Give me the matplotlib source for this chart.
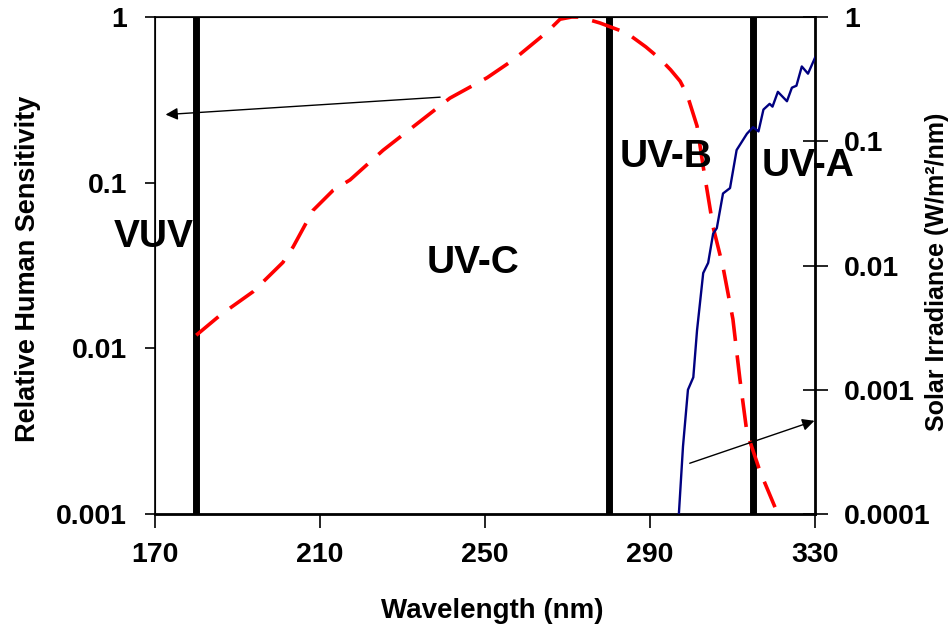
import numpy as np
import matplotlib
matplotlib.use("Agg")
import matplotlib.pyplot as plt

# data
sens_nm = [180, 186, 193.8, 201, 203.5, 208.3, 213.2, 217.3, 225.3, 241.5, 250.5,
           256.8, 265, 268.2, 271, 273, 277.9, 284.4, 289, 292.4, 295, 297.3, 299, 301.4,
           302.9, 305.3, 307.7, 310.1, 311.8, 313.5, 316.7, 320.3]
sens_val = [0.012, 0.016, 0.022, 0.033, 0.041, 0.068, 0.090, 0.104, 0.157, 0.324, 0.43,
            0.55, 0.81, 0.97, 1.0, 1.0, 0.92, 0.80, 0.66, 0.56, 0.48, 0.41, 0.34, 0.22,
            0.125, 0.054, 0.031, 0.015, 0.0065, 0.0031, 0.0018, 0.0011]

solar_nm = [297, 298, 299.2, 300.5, 301.4, 302.9, 304.1, 305.3, 306.2, 307.7, 309.4,
            311, 313.5, 315, 316.3, 317.5, 319, 319.7, 321, 323.2, 324.4, 325.5,
            326.8, 328.3, 330]
solar_val = [1e-4, 3.5e-4, 1e-3, 1.26e-3, 3.0e-3, 8.7e-3, 0.0105, 0.018, 0.020, 0.038, 0.042,
             0.085, 0.115, 0.13, 0.12, 0.18, 0.20, 0.19, 0.25, 0.21, 0.27, 0.28,
             0.40, 0.35, 0.47]

band_edges = [180, 280, 315]
band_names = ["VUV", "UV-C", "UV-B", "UV-A"]
band_label_x = [169.6, 247.1, 293.9, 328.3]
band_label_y = [0.047, 0.0327, 0.143, 0.126]

x_ticks = [170, 210, 250, 290, 330]
left_ticks = [0.001, 0.01, 0.1, 1]
left_labels = ["0.001", "0.01", "0.1", "1"]
right_ticks = [0.0001, 0.001, 0.01, 0.1, 1]
right_labels = ["0.0001", "0.001", "0.01", "0.1", "1"]

plt.rcParams['font.family'] = ['Liberation Sans', 'DejaVu Sans']
plt.rcParams['font.weight'] = 'bold'

fig = plt.figure(figsize=(9.49, 6.28), dpi=100)
ax = fig.add_axes([0.1633, 0.1815, 0.6955, 0.7914])
ax2 = ax.twinx()

ax.set_xlim(170, 330)
ax.set_yscale('log')
ax.set_ylim(0.001, 1)
ax2.set_yscale('log')
ax2.set_ylim(0.0001, 1)

for e in band_edges:
    ax.axvline(e, color='black', lw=5, zorder=2)

ax.plot(sens_nm, sens_val, color='red', lw=2.6, dashes=(8, 4), zorder=3)
ax2.plot(solar_nm, solar_val, color='#000080', lw=1.7, zorder=3)

for name, tx, ty in zip(band_names, band_label_x, band_label_y):
    ax.text(tx, ty, name, fontsize=28, fontweight='bold', ha='center', va='center',
            zorder=10, clip_on=False)

# arrows pointing to each axis
ax.annotate("", xy=(171.9, 0.257), xytext=(239.8, 0.329),
            arrowprops=dict(arrowstyle='-|>', color='black', lw=1, mutation_scale=18),
            annotation_clip=False)
ax.annotate("", xy=(330.5, 0.0037), xytext=(299, 0.0020),
            arrowprops=dict(arrowstyle='-|>', color='black', lw=1, mutation_scale=18),
            annotation_clip=False)

ax.set_xticks(x_ticks)
ax.set_xticklabels([str(t) for t in x_ticks])
ax.set_yticks(left_ticks)
ax.set_yticklabels(left_labels)
ax.minorticks_off()
ax2.set_yticks(right_ticks)
ax2.set_yticklabels(right_labels)
ax2.minorticks_off()

ax.tick_params(axis='x', direction='out', length=10, width=1.2, pad=10, labelsize=20.5)
ax.tick_params(axis='y', direction='out', length=7, width=1.2, pad=13, labelsize=20.5)
ax2.tick_params(axis='y', direction='inout', length=18, width=1.2, pad=12, labelsize=20.5)

for s in ['left', 'top']:
    ax.spines[s].set_linewidth(1.2)
ax.spines['bottom'].set_linewidth(2)
ax2.spines['right'].set_linewidth(2)

ax.set_xlabel("Wavelength (nm)", fontsize=20, fontweight='bold')
ax.xaxis.set_label_coords(0.511, -0.168)
ax.set_ylabel("Relative Human Sensitivity", fontsize=19.5, fontweight='bold')
ax.yaxis.set_label_coords(-0.172, 0.493)
ax2.set_ylabel("Solar Irradiance (W/m\u00b2/nm)", fontsize=18, fontweight='bold')
ax2.yaxis.set_label_coords(1.167, 0.487)

fig.savefig("out.png", dpi=100)
